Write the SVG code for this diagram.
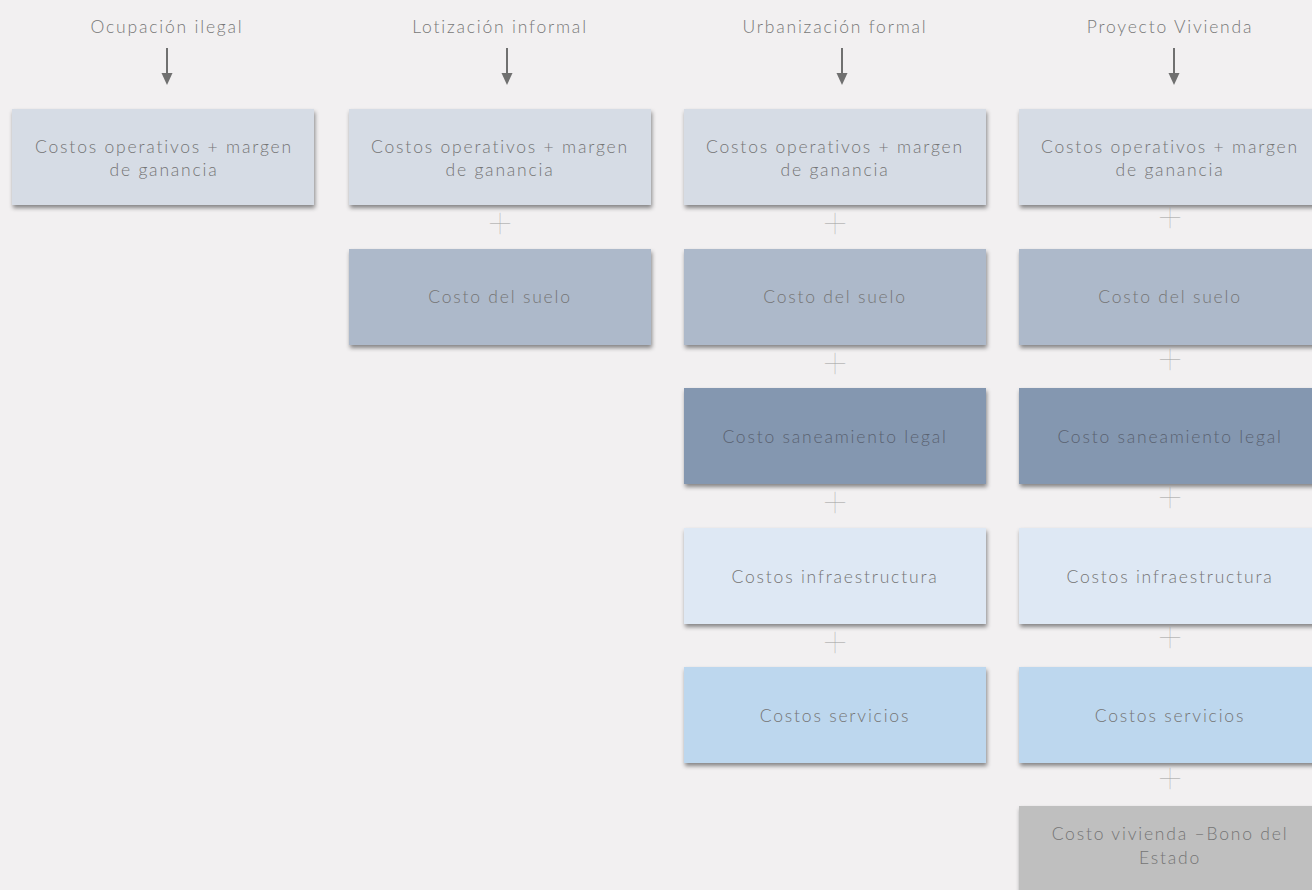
<svg xmlns="http://www.w3.org/2000/svg" width="1312" height="890" viewBox="0 0 1312 890">
<defs>
<filter id="sh" x="-5%" y="-10%" width="115%" height="130%">
<feDropShadow dx="1" dy="3" stdDeviation="2" flood-color="#000" flood-opacity="0.45"/>
</filter>
</defs>
<style>
text{font-family:"Lato","Liberation Sans",sans-serif;font-weight:300;fill:#757575;font-size:17.5px;text-anchor:middle;letter-spacing:1.8px}
.hd{fill:#787878}
.plus{fill:#a0a0a0;font-size:44px;font-weight:100;letter-spacing:0}
.b{filter:url(#sh)}
.r1{fill:#d6dce5}.r2{fill:#adb9ca}.r3{fill:#8497b0}.r4{fill:#dee8f4}.r5{fill:#bdd7ee}.r6{fill:#bfbfbf}
.ar{stroke:#707070;stroke-width:2;fill:none}
.ah{fill:#707070}
.t3{fill:#5a6270}
</style>
<rect width="1312" height="890" fill="#f2f0f1"/>
<g id="headers">
<text class="hd" x="167" y="33">Ocupación ilegal</text>
<text class="hd" x="500" y="33">Lotización informal</text>
<text class="hd" x="835" y="33">Urbanización formal</text>
<text class="hd" x="1170" y="33">Proyecto Vivienda</text>
</g>
<g id="connectors">
<line class="ar" x1="167" y1="48" x2="167" y2="74"/><path class="ah" d="M161.5,73 L172.5,73 L167,85 Z"/>
<line class="ar" x1="507" y1="48" x2="507" y2="74"/><path class="ah" d="M501.5,73 L512.5,73 L507,85 Z"/>
<line class="ar" x1="842" y1="48" x2="842" y2="74"/><path class="ah" d="M836.5,73 L847.5,73 L842,85 Z"/>
<line class="ar" x1="1174" y1="48" x2="1174" y2="74"/><path class="ah" d="M1168.5,73 L1179.5,73 L1174,85 Z"/>
</g>
<g id="col1">
<g id="c1r1"><rect class="b r1" x="12" y="109" width="302" height="96"/><text x="164" y="153">Costos operativos + margen</text><text x="164" y="176">de ganancia</text></g>
</g>
<g id="col2">
<g id="c2r1"><rect class="b r1" x="349" y="109" width="302" height="96"/><text x="500" y="153">Costos operativos + margen</text><text x="500" y="176">de ganancia</text></g>
<text class="plus" x="500" y="238">+</text>
<g id="c2r2"><rect class="b r2" x="349" y="249" width="302" height="96"/><text x="500" y="303">Costo del suelo</text></g>
</g>
<g id="col3">
<g id="c3r1"><rect class="b r1" x="684" y="109" width="302" height="96"/><text x="835" y="153">Costos operativos + margen</text><text x="835" y="176">de ganancia</text></g>
<text class="plus" x="835" y="238">+</text>
<g id="c3r2"><rect class="b r2" x="684" y="249" width="302" height="96"/><text x="835" y="303">Costo del suelo</text></g>
<text class="plus" x="835" y="378">+</text>
<g id="c3r3"><rect class="b r3" x="684" y="388" width="302" height="96"/><text class="t3" x="835" y="443">Costo saneamiento legal</text></g>
<text class="plus" x="835" y="517">+</text>
<g id="c3r4"><rect class="b r4" x="684" y="528" width="302" height="96"/><text x="835" y="583">Costos infraestructura</text></g>
<text class="plus" x="835" y="657">+</text>
<g id="c3r5"><rect class="b r5" x="684" y="667" width="302" height="96"/><text x="835" y="722">Costos servicios</text></g>
</g>
<g id="col4">
<g id="c4r1"><rect class="b r1" x="1019" y="109" width="302" height="96"/><text x="1170" y="153">Costos operativos + margen</text><text x="1170" y="176">de ganancia</text></g>
<text class="plus" x="1170" y="232">+</text>
<g id="c4r2"><rect class="b r2" x="1019" y="249" width="302" height="96"/><text x="1170" y="303">Costo del suelo</text></g>
<text class="plus" x="1170" y="374">+</text>
<g id="c4r3"><rect class="b r3" x="1019" y="388" width="302" height="96"/><text class="t3" x="1170" y="443">Costo saneamiento legal</text></g>
<text class="plus" x="1170" y="512">+</text>
<g id="c4r4"><rect class="b r4" x="1019" y="528" width="302" height="96"/><text x="1170" y="583">Costos infraestructura</text></g>
<text class="plus" x="1170" y="652">+</text>
<g id="c4r5"><rect class="b r5" x="1019" y="667" width="302" height="96"/><text x="1170" y="722">Costos servicios</text></g>
<text class="plus" x="1170" y="793">+</text>
<g id="c4r6"><rect class="b r6" x="1019" y="806" width="302" height="96"/><text x="1170" y="840">Costo vivienda –Bono del</text><text x="1170" y="864">Estado</text></g>
</g>
</svg>
